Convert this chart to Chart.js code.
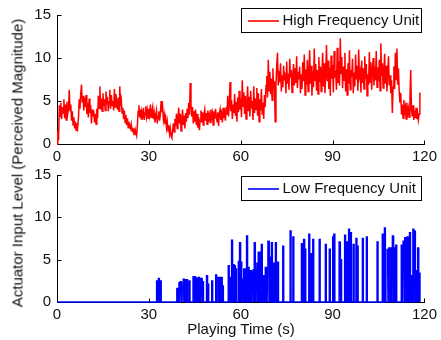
<!DOCTYPE html>
<html>
<head>
<meta charset="utf-8">
<script src="https://cdn.jsdelivr.net/npm/chart.js@4.4.0/dist/chart.umd.min.js"></script>
<style>
  body { margin: 0; background: #fff; width: 441px; height: 340px; position: relative; overflow: hidden;
         font-family: "Liberation Sans", Arial, sans-serif; color: #111; }
  canvas { position: absolute; left: 0; }
  #top { top: 0; }
  #bot { top: 160px; }
  .axt { position: absolute; white-space: nowrap; font-size: 15px; }
  #ylab { left: 17px; top: 163px; transform: translate(-50%, -50%) rotate(-90deg); }
  #xlab { left: 241px; top: 328px; transform: translate(-50%, -50%); }
</style>
</head>
<body>
<canvas id="top" width="441" height="170"></canvas>
<canvas id="bot" width="441" height="180"></canvas>
<div class="axt" id="ylab">Actuator Input Level (Perceived Magnitude)</div>
<div class="axt" id="xlab">Playing Time (s)</div>
<script>
// ---- data ----
const xTicks = [0, 30, 60, 90, 120];
const yTicks = [0, 5, 10, 15];

// high frequency unit, one sample every 0.25 s (one row = 5 s)
const hfStep = 0.25;
const hfLevel = [
  0, 1.6, 0.4, 4.5, 3.2, 4.8, 2.9, 4.3, 3.6, 5.2, 3.0, 4.6, 2.8, 4.9, 3.5, 4.1, 6.3, 3.9, 4.6, 2.7,
  3.8, 2.2, 3.1, 1.8, 2.6, 1.6, 2.4, 1.9, 3.0, 5.2, 4.1, 5.9, 6.9, 4.8, 5.6, 3.9, 5.4, 4.3, 5.7, 3.5,
  4.8, 3.1, 5.3, 3.6, 4.5, 2.4, 4.0, 3.2, 3.9, 2.5, 3.5, 2.3, 4.1, 3.0, 5.6, 4.2, 6.7, 4.0, 5.3, 3.8,
  5.9, 4.4, 5.2, 3.9, 6.1, 4.6, 5.5, 3.8, 4.9, 6.3, 4.1, 5.7, 4.5, 5.0, 3.9, 6.4, 4.3, 5.8, 4.7, 4.0,
  5.4, 3.8, 6.7, 4.5, 5.1, 3.6, 4.2, 2.9, 3.9, 2.5, 3.4, 2.2, 3.0, 1.9, 2.6, 2.1, 1.8, 2.3, 1.5, 1.9,
  1.3, 1.6, 1.1, 1.4, 1.0, 2.2, 3.8, 4.5, 3.1, 4.0, 2.9, 3.7, 3.3, 4.2, 2.8, 3.6, 4.4, 3.2, 3.9, 3.0,
  4.1, 3.4, 4.6, 3.1, 3.8, 4.3, 2.9, 3.6, 2.5, 3.3, 3.9, 2.4, 3.2, 3.8, 2.7, 3.5, 5.0, 3.7, 4.3, 2.8,
  3.4, 2.3, 3.0, 1.9, 2.6, 1.5, 2.2, 1.2, 1.8, 0.9, 0.7, 1.6, 2.4, 1.4, 2.9, 2.1, 3.5, 1.8, 3.1, 4.2,
  2.4, 3.5, 1.5, 2.9, 4.0, 2.2, 3.3, 1.8, 3.6, 2.6, 4.1, 3.0, 4.8, 3.4, 7.1, 4.6, 3.2, 4.3, 2.4, 3.8,
  2.6, 4.0, 2.2, 3.5, 1.9, 3.1, 1.6, 2.8, 3.9, 2.5, 3.7, 2.2, 3.4, 4.0, 2.7, 3.6, 2.3, 3.9, 2.9, 3.4,
  2.5, 4.0, 3.1, 3.6, 2.2, 3.8, 2.9, 4.1, 3.3, 2.6, 3.7, 2.1, 3.5, 4.0, 2.8, 3.4, 2.5, 4.2, 3.0, 3.6,
  2.7, 4.3, 3.4, 5.6, 3.2, 4.5, 7.2, 3.8, 5.1, 2.9, 4.6, 3.6, 5.8, 3.3, 4.9, 2.6, 5.4, 3.7, 6.2, 4.0,
  5.3, 3.1, 7.4, 4.4, 6.0, 3.5, 5.6, 2.9, 4.8, 6.7, 3.8, 5.5, 3.2, 6.2, 4.1, 5.0, 2.8, 6.7, 3.6, 5.3,
  4.0, 6.5, 3.3, 5.9, 2.6, 5.2, 3.9, 6.4, 3.5, 4.8, 2.9, 5.7, 4.3, 6.8, 7.9, 5.4, 9.8, 6.2, 8.4, 5.8,
  7.6, 5.1, 8.8, 6.4, 7.3, 2.6, 6.9, 9.2, 10.6, 6.8, 8.5, 7.2, 9.4, 6.1, 8.0, 6.6, 9.1, 7.4, 8.3, 5.9,
  9.6, 7.0, 8.2, 6.3, 9.9, 7.7, 8.6, 6.0, 7.9, 9.3, 6.8, 8.8, 7.1, 10.2, 6.5, 8.4, 7.5, 9.0, 5.9, 8.1,
  6.4, 9.5, 7.3, 10.4, 5.7, 8.7, 6.9, 9.8, 6.1, 8.3, 10.9, 7.0, 9.1, 5.6, 8.5, 6.6, 11.1, 7.4, 9.3, 6.2,
  8.6, 5.8, 10.1, 7.2, 9.0, 6.1, 8.2, 10.6, 6.7, 9.4, 5.9, 8.1, 11.5, 7.3, 9.7, 6.4, 8.9, 5.6, 10.3, 7.6,
  9.2, 6.0, 10.8, 7.7, 8.5, 6.3, 11.2, 7.1, 9.6, 6.8, 12.3, 8.2, 10.1, 6.5, 9.0, 7.4, 10.6, 6.1, 8.7, 5.7,
  9.4, 7.0, 10.9, 6.3, 8.6, 7.8, 9.9, 5.9, 8.3, 6.7, 10.4, 7.5, 9.1, 6.2, 11.0, 7.9, 8.4, 6.0, 9.7, 7.1,
  8.8, 6.4, 10.2, 7.6, 9.3, 5.6, 8.1, 6.9, 10.7, 7.2, 9.5, 6.3, 8.6, 10.0, 6.8, 9.0, 7.4, 10.8, 6.6, 8.9,
  7.3, 9.8, 6.2, 11.7, 7.9, 9.4, 6.5, 8.7, 10.5, 7.0, 9.1, 6.1, 8.3, 10.2, 6.8, 8.0, 5.9, 7.4, 3.6, 6.6,
  9.0, 6.4, 10.6, 7.5, 11.1, 6.9, 8.8, 6.0, 4.8, 5.9, 3.4, 4.6, 3.0, 5.1, 3.7, 4.3, 2.9, 4.8, 3.5, 4.1,
  3.1, 5.2, 8.6, 4.0, 3.2, 4.5, 2.8, 3.9, 3.0, 4.2, 2.9, 3.6, 2.8, 3.5, 6.0
];

// low frequency unit: pulse start times (s) and levels
const lfTime = [
  32.5, 33.1, 33.7, 39.1, 39.8, 40.2, 40.8, 41.2, 41.7, 42.3, 43.1, 44.4, 44.9, 45.5, 46.2, 46.6, 47.0, 47.5,
  48.8, 49.2, 50.5, 51.8, 52.6, 53.1, 53.6, 54.0, 55.9, 56.6, 57.0, 57.5, 57.9, 58.3, 59.2, 59.6, 60.0, 60.5,
  61.0, 61.5, 61.9, 62.4, 63.1, 63.5, 64.0, 64.4, 64.8, 65.3, 65.7, 66.1, 66.7, 67.4, 68.0, 68.4, 68.9, 69.4,
  70.0, 70.7, 71.3, 72.0, 73.7, 76.1, 77.0, 79.8, 80.5, 80.9, 82.2, 82.8, 83.5, 85.6, 87.6, 88.9, 90.0, 90.4,
  92.1, 92.6, 93.9, 94.5, 95.2, 95.8, 96.7, 97.6, 98.0, 99.7, 101.0, 104.5, 106.2, 106.9, 107.8, 108.4, 109.1,
  109.5, 110.0, 110.6, 112.4, 113.0, 113.6, 114.3, 114.7, 115.1, 115.8, 116.2, 116.6, 117.1, 117.5, 117.7, 118.2
];
const lfLevel = [
  2.5, 2.8, 2.5, 1.6, 2.3, 2.4, 2.0, 2.7, 2.65, 2.65, 2.5, 3.0, 3.0, 2.85, 2.9, 2.8, 2.8, 2.4,
  3.1, 2.1, 2.5, 3.2, 2.9, 2.9, 2.9, 1.9, 4.3, 2.9, 7.3, 4.4, 4.3, 3.9, 4.8, 7.0, 4.7, 2.7,
  3.9, 3.9, 7.8, 4.1, 3.7, 3.5, 3.8, 7.0, 3.9, 4.6, 5.9, 5.9, 6.8, 3.1, 4.1, 4.1, 7.2, 5.3,
  7.0, 4.6, 7.0, 4.7, 6.6, 8.4, 7.7, 6.9, 7.4, 6.25, 8.0, 5.7, 7.4, 7.4, 6.8, 6.25, 7.7, 8.0,
  7.1, 5.0, 7.9, 7.1, 8.6, 8.2, 6.8, 7.5, 6.6, 7.5, 7.7, 7.1, 8.0, 8.75, 6.2, 6.4, 6.4,
  7.8, 6.4, 6.7, 6.7, 7.2, 7.6, 7.7, 3.5, 8.2, 3.1, 8.6, 8.4, 3.5, 3.7, 6.4, 3.4
];
const lfEnd = 118.5;
const pulseWidth = 0.35;

const hfPoints = hfLevel.map((v, i) => ({ x: i * hfStep, y: v }));
const lfPoints = [{ x: 0, y: 0 }];
lfTime.forEach((t, i) => {
  lfPoints.push({ x: t, y: 0 }, { x: t, y: lfLevel[i] }, { x: t + pulseWidth, y: lfLevel[i] }, { x: t + pulseWidth, y: 0 });
});
lfPoints.push({ x: lfEnd, y: 0 });

// ---- plugins ----
// MATLAB style: left/bottom axis lines only, ticks pointing inwards
const axesInside = {
  id: 'axesInside',
  beforeDatasetsDraw(chart) {
    const ctx = chart.ctx, a = chart.chartArea;
    const xs = chart.scales.x, ys = chart.scales.y;
    const L = Math.round(a.left) + 0.5, B = Math.round(a.bottom) + 0.5;
    ctx.save();
    ctx.strokeStyle = '#000';
    ctx.lineWidth = 1;
    ctx.beginPath();
    ctx.moveTo(L, Math.round(a.top));
    ctx.lineTo(L, B);
    ctx.lineTo(Math.round(a.right) + 1, B);
    xTicks.forEach(v => {
      const px = Math.round(xs.getPixelForValue(v)) + 0.5;
      ctx.moveTo(px, B); ctx.lineTo(px, B - 4);
    });
    yTicks.forEach(v => {
      const py = Math.round(ys.getPixelForValue(v)) + 0.5;
      ctx.moveTo(L, py); ctx.lineTo(L + 4, py);
    });
    ctx.stroke();
    ctx.restore();
  }
};

// boxed legend in the upper right corner, one per chart
function legendBox(text, swatch, top) {
  const w = 180, h = 24, right = 3;
  return {
    id: 'legendBox',
    afterDatasetsDraw(chart) {
      const ctx = chart.ctx, a = chart.chartArea;
      const x = Math.round(a.right - right - w) + 0.5;
      const y = Math.round(a.top + top) + 0.5;
      ctx.save();
      ctx.fillStyle = '#fff';
      ctx.fillRect(x, y, w, h);
      ctx.strokeStyle = '#000';
      ctx.lineWidth = 1;
      ctx.strokeRect(x, y, w, h);
      const my = Math.round(y + h / 2);
      ctx.globalAlpha = 0.8;
      ctx.fillStyle = swatch;
      ctx.fillRect(Math.round(x) + 6, my - 1, 31, 2);
      ctx.globalAlpha = 1;
      ctx.fillStyle = '#111';
      ctx.font = '15px "Liberation Sans", Arial, sans-serif';
      ctx.textBaseline = 'middle';
      ctx.fillText(text, x + 41, my);
      ctx.restore();
    }
  };
}

function makeChart(id, points, color, width, label, pad, xHeight, legendTop) {
  return new Chart(document.getElementById(id), {
    type: 'line',
    data: {
      datasets: [{
        label: label,
        data: points,
        borderColor: color,
        borderWidth: width,
        pointRadius: 0,
        tension: 0,
        clip: false
      }]
    },
    options: {
      responsive: false,
      animation: false,
      layout: { padding: pad },
      plugins: {
        legend: { display: false },
        tooltip: { enabled: false }
      },
      scales: {
        x: {
          type: 'linear', min: 0, max: 120,
          afterBuildTicks: s => { s.ticks = xTicks.map(v => ({ value: v })); },
          afterFit: s => { s.height = xHeight; },
          grid: { display: false, drawTicks: false },
          border: { display: false },
          ticks: { color: '#111', font: { size: 15, family: '"Liberation Sans", Arial, sans-serif' }, padding: 4, maxRotation: 0 }
        },
        y: {
          min: 0, max: 15,
          afterBuildTicks: s => { s.ticks = yTicks.map(v => ({ value: v })); },
          afterFit: s => { s.width = 57; },
          grid: { display: false, drawTicks: false },
          border: { display: false },
          ticks: { color: '#111', font: { size: 15, family: '"Liberation Sans", Arial, sans-serif' }, padding: 6 }
        }
      }
    },
    plugins: [axesInside, legendBox(label, color, legendTop)]
  });
}

makeChart('top', hfPoints, '#ff0000', 1.5, 'High Frequency Unit', { left: 0, right: 15, top: 15, bottom: 0 }, 26, -7);
makeChart('bot', lfPoints, '#0000ff', 1.3, 'Low Frequency Unit', { left: 0, right: 15, top: 14, bottom: 0 }, 38, 1);
</script>
</body>
</html>
